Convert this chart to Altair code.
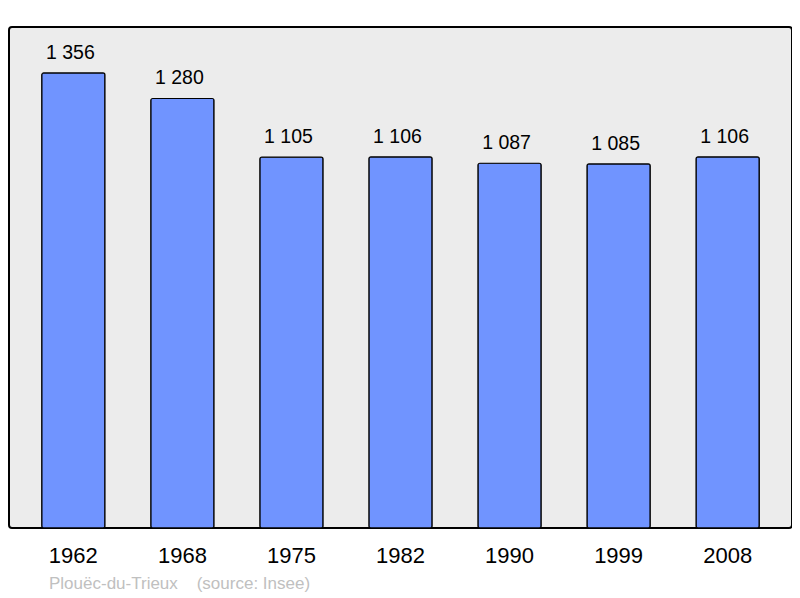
import altair as alt
import pandas as pd

years = ["1962", "1968", "1975", "1982", "1990", "1999", "2008"]
population = [1356, 1280, 1105, 1106, 1087, 1085, 1106]
labels = [f"{v:,}".replace(",", " ") for v in population]

df = pd.DataFrame({"year": years, "pop": population, "label": labels})

x = alt.X("year:N", sort=years,
          scale=alt.Scale(paddingInner=0.42, paddingOuter=0.3),
          axis=alt.Axis(title=None, labelAngle=0, domain=False, ticks=False,
                        labelFontSize=22, labelFont="Liberation Sans",
                        labelColor="#000000", labelPadding=17))
y = alt.Y("pop:Q", scale=alt.Scale(domain=[0, 1493], nice=False, zero=True),
          axis=None)

bars = alt.Chart(df).mark_bar(color="#7094ff", stroke="#000000", strokeWidth=1.2,
                              cornerRadius=2).encode(x=x, y=y)
text = alt.Chart(df).mark_text(baseline="bottom", dy=-10, dx=-3, fontSize=19.5,
                               font="Liberation Sans", color="#000000").encode(
    x=x, y=y, text="label:N")

chart = alt.layer(bars, text).properties(
    width=783, height=501,
    title=alt.TitleParams("Plouëc-du-Trieux\u00a0\u00a0\u00a0\u00a0(source: Insee)",
                          orient="bottom", anchor="start", dx=40, offset=10,
                          fontSize=17, font="Liberation Sans", fontWeight="normal",
                          color="#c0c0c0"),
    autosize="none",
    padding={"left": 1, "top": 19, "right": 0, "bottom": 70},
).configure_view(fill="#ececec", stroke="#000000", strokeWidth=2, cornerRadius=3)

chart.save("out.html", embed_options={"renderer": "svg", "actions": False})
